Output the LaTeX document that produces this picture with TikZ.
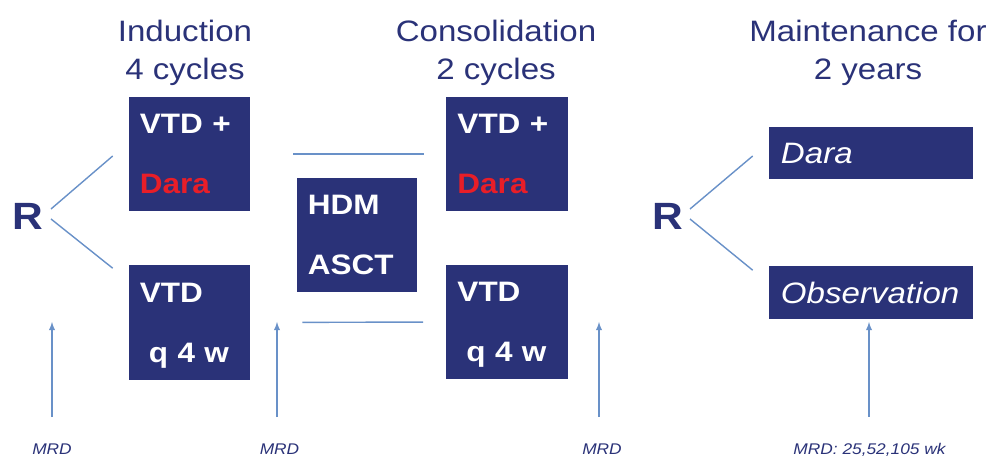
\documentclass[tikz,border=0pt]{standalone}
\usepackage{fontspec}
\setmainfont{Liberation Sans}[FakeStretch=1.12]
\definecolor{boxblue}{RGB}{42,50,120}
\definecolor{lineblue}{RGB}{105,145,200}
\definecolor{daracol}{RGB}{232,30,40}

\begin{document}
\begin{tikzpicture}[>=latex,x=0.025cm,y=-0.025cm,
	phase/.style={text=boxblue,align=center,anchor=north,inner sep=0,font=\fontsize{21}{27}\selectfont},
	arm/.style={fill=boxblue,text=white,align=left,inner xsep=0.275cm,inner ysep=0,text width=2.475cm,minimum height=2.85cm,font=\bfseries\fontsize{20}{42.7}\selectfont},
	maint/.style={fill=boxblue,text=white,align=left,inner xsep=0.3cm,text width=4.5cm,minimum height=1.3cm,font=\itshape\fontsize{21}{25}\selectfont},
	rand/.style={text=boxblue,inner sep=0,font=\bfseries\fontsize{27}{30}\selectfont},
	mrd/.style={text=boxblue,inner sep=0,anchor=base,font=\itshape\fontsize{11}{13}\selectfont},
	link/.style={draw=lineblue,line width=1pt},
	mrdarrow/.style={link,->,shorten <=0.65cm}]
	\useasboundingbox (0,0) rectangle (992,457);
	% phase headings
	\node[phase] (ind) at (185,20) {Induction\\4 cycles};
	\node[phase] (con) at (496,20) {Consolidation\\2 cycles};
	\node[phase] (mnt) at (868,20) {Maintenance for\\2 years};
	% induction and consolidation arms
	\node[rand] (R1) at (27.5,216.5) {R};
	\node[arm] (ind1) at (189.5,154) {VTD +\\\textcolor{daracol}{Dara}};
	\node[arm] (ind2) at (189.5,322.5) {VTD\\\hspace*{6.4pt}\smash{q} 4 w};
	\node[arm,text width=2.45cm] (hdm) at (357,235) {HDM\\ASCT};
	\node[arm] (con1) at (507,154) {VTD +\\\textcolor{daracol}{Dara}};
	\node[arm] (con2) at (507,322) {VTD\\\hspace*{6.4pt}\smash{q} 4 w};
	\draw[link] ([shift={(23.5,-7.5)}]R1.center) -- ([shift={(-16,2)}]ind1.west);
	\draw[link] ([shift={(23.5,2.5)}]R1.center) -- ([shift={(-16,3)}]ind2.north west);
	\draw[link,shorten <=1.075cm,shorten >=0.55cm] (ind1.east) -- (con1.west);
	\draw[link,shorten <=1.3cm,shorten >=0.575cm] (ind2.east) -- (con2.west);
	% maintenance
	\node[rand] (R2) at (667.5,216.5) {R};
	\node[maint] (dara) at (871,153) {Dara};
	\node[maint] (obs) at (871,292.5) {Observation};
	\draw[link] ([shift={(22.5,-7.5)}]R2.center) -- ([shift={(-16,3)}]dara.west);
	\draw[link] ([shift={(22.5,2.5)}]R2.center) -- ([shift={(-16,4)}]obs.north west);
	% MRD time points
	\foreach \x/\n in {52/1,277/2,599/3,869/4}
		\coordinate (tip\n) at (\x,322);
	\node[mrd] (mrd1) at (52,454) {MRD};
	\node[mrd] (mrd2) at (279.5,454) {MRD};
	\node[mrd] (mrd3) at (602,454) {MRD};
	\node[mrd] (mrd4) at (869.5,454) {MRD: 25,52,105 wk};
	\foreach \n in {1,...,4}
		\draw[mrdarrow] (mrd\n.north -| tip\n) -- (tip\n);
\end{tikzpicture}
\end{document}
